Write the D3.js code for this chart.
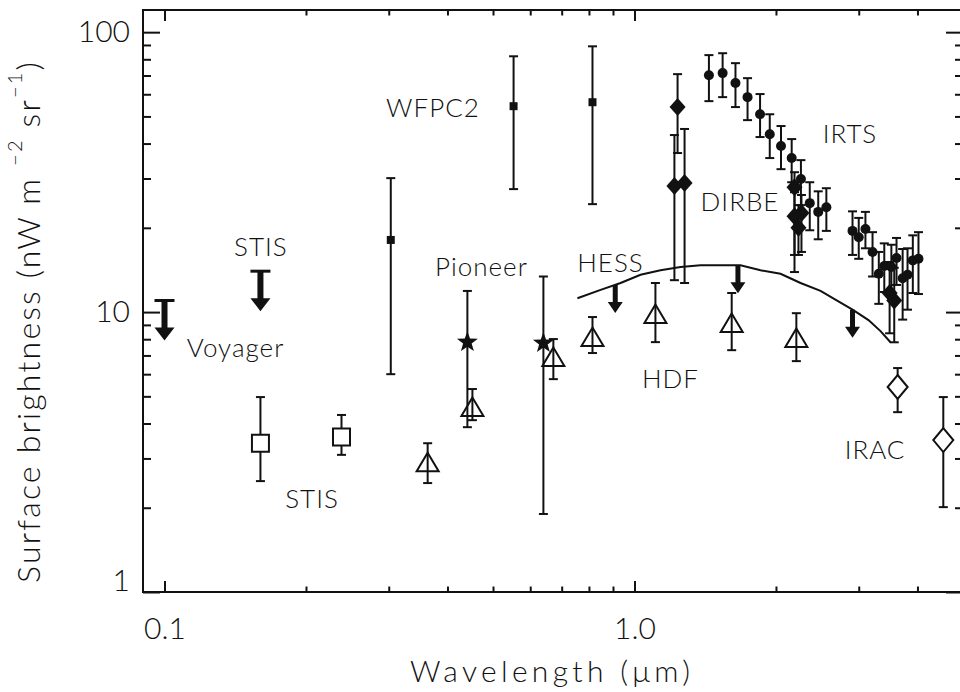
<!DOCTYPE html>
<html>
<head>
<meta charset="utf-8">
<script src="https://cdn.jsdelivr.net/npm/d3@7"></script>
<style>
  body { margin: 0; background: #fff; }
  svg { display: block; }
  text { font-family: Lato, "DejaVu Sans", sans-serif; font-weight: 300; fill: #111; }
</style>
</head>
<body>
<svg id="chart" width="960" height="692"></svg>
<script>
// rows: [wavelength (um), value, upper error, lower error]  (nW m^-2 sr^-1)
var irts = [
  [1.44, 70.2, 82.8, 56.7], [1.54, 71.4, 84.1, 58.6], [1.64, 65.8, 77.5, 54.0], [1.74, 58.6, 68.5, 48.5],
  [1.85, 50.9, 60.1, 42.2], [1.94, 43.2, 50.9, 35.5], [2.05, 39.2, 46.2, 32.4], [2.16, 35.5, 41.5, 29.1],
  [2.26, 29.9, 34.9, 24.1], [2.36, 24.5, 29.1, 19.6], [2.46, 22.8, 27.0, 18.2], [2.56, 23.7, 27.7, 19.5],
  [2.91, 19.5, 22.9, 16.0], [3.00, 18.5, 21.7, 15.5], [3.10, 19.8, 22.8, 16.9], [3.21, 16.4, 19.3, 13.4],
  [3.31, 13.7, 16.4, 10.7], [3.40, 14.6, 17.6, 11.8], [3.52, 14.5, 17.4, 11.5], [3.61, 15.6, 18.4, 12.5],
  [3.72, 13.2, 16.8, 9.4], [3.81, 13.6, 16.9, 10.2], [3.91, 15.3, 18.8, 11.7], [4.02, 15.5, 19.3, 11.6]
];
var dirbe = [
  [1.235, 54.0, 70.8, 37.0], [1.216, 28.2, 42.9, 13.0], [1.278, 28.9, 45.1, 12.7],
  [2.19, 27.9, 31.6, 16.0], [2.19, 22.0, 26.8, 13.9], [2.266, 22.6, 26.2, 16.4], [2.233, 20.0, 24.1, 16.0],
  [3.49, 11.7, 15.1, 8.4], [3.57, 11.0, 14.4, 7.8]
];
var hdf = [
  [0.363, 2.91, 3.40, 2.45], [0.452, 4.58, 5.31, 4.11], [0.672, 6.91, 8.01, 5.76], [0.814, 8.14, 9.6, 7.14],
  [1.108, 9.84, 12.7, 7.81], [1.61, 9.14, 11.7, 7.31], [2.21, 8.08, 9.91, 6.68]
];
var irac = [[3.63, 5.40, 6.31, 4.39], [4.54, 3.49, 4.97, 2.01]];
var stis = [[0.16, 3.40, 4.97, 2.49], [0.238, 3.58, 4.29, 3.09]];
var wfpc2 = [[0.303, 18.1, 30.1, 6.0], [0.553, 54.4, 82, 27.5], [0.814, 56.2, 89, 24.3]];
var pioneer = [[0.441, 7.81, 11.9, 3.88], [0.64, 7.75, 13.4, 1.90]];
// upper limits [wavelength, value]
var upperLimits = [[0.1, 11.0], [0.16, 14.0]];
var hessLimits = [[0.91, 12.5], [1.66, 14.7], [2.91, 10.2]];
var hessCurve = [
  [0.756, 11.2], [0.847, 12.0], [0.934, 12.7], [1.03, 13.6], [1.136, 14.1], [1.253, 14.5],
  [1.382, 14.7], [1.524, 14.7], [1.681, 14.7], [1.854, 14.1], [2.045, 13.7], [2.256, 12.7],
  [2.488, 11.9], [2.744, 10.8], [2.91, 10.2], [3.147, 9.36], [3.338, 8.55], [3.505, 7.8]
];
var labels = [
  ["STIS", 0.1604, 15.85], ["Voyager", 0.1416, 6.91], ["STIS", 0.206, 2.0], ["WFPC2", 0.3726, 49.7],
  ["Pioneer", 0.4725, 13.45], ["HESS", 0.889, 13.9], ["HDF", 1.193, 5.35], ["IRAC", 3.25, 2.985],
  ["DIRBE", 1.677, 22.95], ["IRTS", 2.874, 40.1]
];
var xMajor = [0.1, 1], xMinor = [0.2, 0.3, 0.4, 0.5, 0.6, 0.7, 0.8, 0.9, 2, 3, 4];
var yMajor = [1, 10, 100], yMinor = [2, 3, 4, 5, 6, 7, 8, 9, 20, 30, 40, 50, 60, 70, 80, 90];

var INK = "#111";
var svg = d3.select("#chart");
var x = d3.scaleLog().domain([0.09, 5]).range([143, 963]);
var y = d3.scaleLog().domain([1, 120]).range([592, 10]);

// Axes
function styleAxis(g) {
  g.select(".domain").remove();
  g.selectAll(".tick line").attr("stroke", INK).attr("stroke-width", 2);
  g.selectAll(".tick text").attr("font-size", 30).attr("fill", INK)
    .attr("font-family", null);
}
var fmtX = function (d) { return d === 1 ? "1.0" : "0.1"; };
svg.append("g").attr("transform", "translate(0,592)")
  .call(d3.axisBottom(x).tickValues(xMajor).tickSize(-11).tickSizeOuter(0).tickPadding(26).tickFormat(fmtX))
  .call(styleAxis);
svg.append("g").attr("transform", "translate(0,592)")
  .call(d3.axisBottom(x).tickValues(xMinor).tickSize(-5.5).tickSizeOuter(0).tickFormat(""))
  .call(styleAxis);
svg.append("g").attr("transform", "translate(0,10)")
  .call(d3.axisTop(x).tickValues(xMajor).tickSize(-11).tickSizeOuter(0).tickFormat(""))
  .call(styleAxis);
svg.append("g").attr("transform", "translate(0,10)")
  .call(d3.axisTop(x).tickValues(xMinor).tickSize(-5.5).tickSizeOuter(0).tickFormat(""))
  .call(styleAxis);
var yAxis = svg.append("g").attr("transform", "translate(143,0)")
  .call(d3.axisLeft(y).tickValues(yMajor).tickSize(-17).tickSizeOuter(0).tickPadding(13).tickFormat(d3.format("d")))
  .call(styleAxis);
yAxis.selectAll(".tick text").filter(function (d) { return d === 1; }).attr("dy", "-0.05em");
svg.append("g").attr("transform", "translate(143,0)")
  .call(d3.axisLeft(y).tickValues(yMinor).tickSize(-8).tickSizeOuter(0).tickFormat(""))
  .call(styleAxis);
svg.append("g").attr("transform", "translate(963,0)")
  .call(d3.axisRight(y).tickValues(yMajor).tickSize(-17).tickSizeOuter(0).tickFormat(""))
  .call(styleAxis);
svg.append("g").attr("transform", "translate(963,0)")
  .call(d3.axisRight(y).tickValues(yMinor).tickSize(-8).tickSizeOuter(0).tickFormat(""))
  .call(styleAxis);
svg.append("rect").attr("x", 143).attr("y", 10).attr("width", 820).attr("height", 582)
  .attr("fill", "none").attr("stroke", INK).attr("stroke-width", 2);

// Axis titles
svg.append("text").attr("x", 550).attr("y", 682).attr("text-anchor", "middle")
  .attr("font-size", 30).attr("textLength", 280).attr("lengthAdjust", "spacing")
  .text("Wavelength (\u03bcm)");
var yt = svg.append("text").attr("transform", "translate(40,583) rotate(-90)")
  .attr("text-anchor", "start").attr("font-size", 32).attr("letter-spacing", 2.2);
yt.append("tspan").text("Surface brightness (nW m ");
yt.append("tspan").attr("dy", -18).attr("font-size", 20).text("\u22122");
yt.append("tspan").attr("dy", 18).text(" sr");
yt.append("tspan").attr("dy", -18).attr("font-size", 20).text("\u22121");
yt.append("tspan").attr("dy", 18).text(")");

// HESS curve and limits
var plot = svg.append("g");
plot.append("path").datum(hessCurve)
  .attr("d", d3.line().x(function (d) { return x(d[0]); }).y(function (d) { return y(d[1]); }))
  .attr("fill", "none").attr("stroke", INK).attr("stroke-width", 2);
plot.selectAll("path.hess").data(hessLimits).enter().append("path").attr("class", "hess")
  .attr("transform", function (d) { return "translate(" + x(d[0]) + "," + y(d[1]) + ")"; })
  .attr("d", "M-2.5,0H2.5V17H7.5L0,28L-7.5,17H-2.5Z").attr("fill", INK);

// Upper limits (Voyager, STIS)
var ul = plot.selectAll("g.ul").data(upperLimits).enter().append("g").attr("class", "ul")
  .attr("transform", function (d) { return "translate(" + x(d[0]) + "," + y(d[1]) + ")"; });
ul.append("line").attr("x1", -10).attr("x2", 10).attr("stroke", INK).attr("stroke-width", 3);
ul.append("path").attr("d", "M-3,0H3V27H10L0,40L-10,27H-3Z").attr("fill", INK);

// Error bars
function errorBars(data) {
  var e = plot.append("g").selectAll("g").data(data).enter().append("g")
    .attr("transform", function (d) { return "translate(" + x(d[0]) + ",0)"; })
    .attr("stroke", INK).attr("stroke-width", 2);
  e.append("line").attr("y1", function (d) { return y(d[2]); }).attr("y2", function (d) { return y(d[3]); });
  e.append("line").attr("x1", -4.5).attr("x2", 4.5)
    .attr("y1", function (d) { return y(d[2]); }).attr("y2", function (d) { return y(d[2]); });
  e.append("line").attr("x1", -4.5).attr("x2", 4.5)
    .attr("y1", function (d) { return y(d[3]); }).attr("y2", function (d) { return y(d[3]); });
}
[stis, wfpc2, pioneer, hdf, irac, dirbe, irts].forEach(errorBars);

// Markers
function starPath(r1, r2) {
  var p = [];
  for (var i = 0; i < 10; i++) {
    var a = -Math.PI / 2 + i * Math.PI / 5, r = i % 2 ? r2 : r1;
    p.push([r * Math.cos(a), r * Math.sin(a)]);
  }
  return "M" + p.join("L") + "Z";
}
function markers(data, d, fill, stroke) {
  plot.append("g").selectAll("path").data(data).enter().append("path")
    .attr("transform", function (r) { return "translate(" + x(r[0]) + "," + y(r[1]) + ")"; })
    .attr("d", d).attr("fill", fill).attr("stroke", stroke ? INK : "none").attr("stroke-width", 2);
}
markers(stis, "M-8.5,-8.5H8.5V8.5H-8.5Z", "#fff", true);
markers(wfpc2, "M-4,-4H4V4H-4Z", INK, false);
markers(pioneer, starPath(11, 4.5), INK, false);
markers(hdf, "M0,-9.5L11,9L-11,9Z", "none", true);
markers(irac, "M0,-12L10,0L0,12L-10,0Z", "#fff", true);
markers(dirbe, "M0,-9L8,0L0,9L-8,0Z", INK, false);
plot.append("g").selectAll("circle").data(irts).enter().append("circle")
  .attr("cx", function (d) { return x(d[0]); }).attr("cy", function (d) { return y(d[1]); })
  .attr("r", 5).attr("fill", INK);

// Instrument labels
svg.append("g").selectAll("text").data(labels).enter().append("text")
  .attr("x", function (d) { return x(d[1]); }).attr("y", function (d) { return y(d[2]); })
  .attr("text-anchor", "middle").attr("font-size", 26).attr("letter-spacing", 1)
  .text(function (d) { return d[0]; });
</script>
</body>
</html>
